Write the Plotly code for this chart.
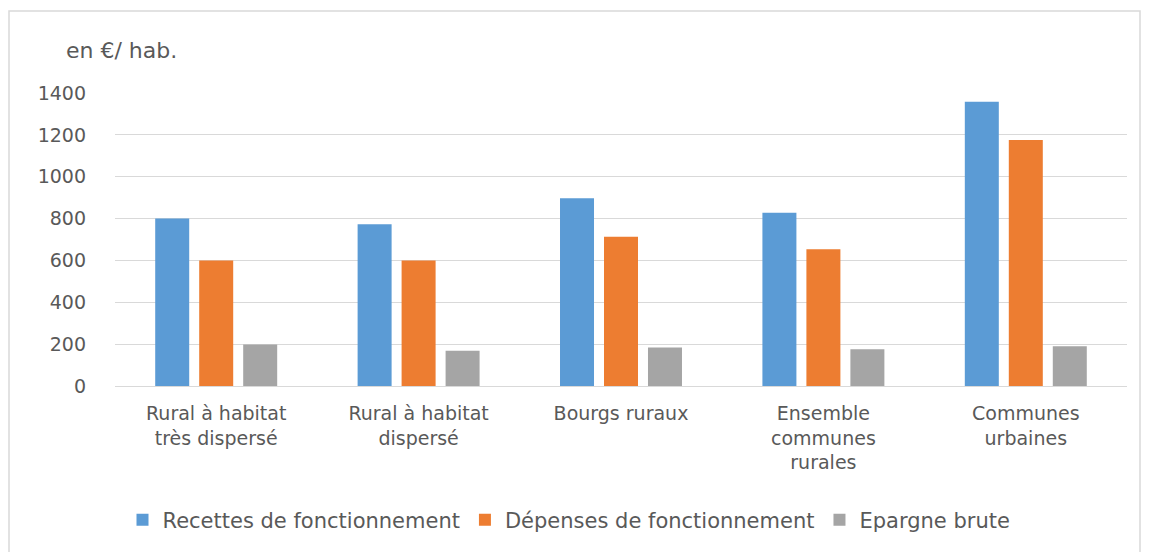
import plotly.graph_objects as go

categories = ["Rural à habitat<br>très dispersé", "Rural à habitat<br>dispersé", "Bourgs ruraux",
              "Ensemble<br>communes<br>rurales", "Communes<br>urbaines"]
recettes = [800, 773, 897, 828, 1358]
depenses = [600, 600, 713, 654, 1176]
epargne = [198, 168, 184, 176, 190]
series_names = ["Recettes de fonctionnement", "Dépenses de fonctionnement", "Epargne brute"]
y_ticks = [0, 200, 400, 600, 800, 1000, 1200, 1400]

OFF = 8  # page body margin
W, H = 1150 - OFF, 552 - OFF
L, R, T, B = 115 - OFF, 1127 - OFF, 93 - OFF, 386 - OFF  # plot area in figure px

def px_x(px):
    return (px - OFF - L) / (R - L)

def px_y(py):
    return (B - (py - OFF)) / (B - T)

colors = ["#5B9BD5", "#ED7D31", "#A5A5A5"]
FONT = "DejaVu Sans"
GREY = "#595959"

fig = go.Figure()
for name, vals, c in zip(series_names, [recettes, depenses, epargne], colors):
    fig.add_trace(go.Bar(x=categories, y=vals, name=name, marker=dict(color=c, line=dict(width=0))))

fig.update_layout(
    width=W, height=H,
    margin=dict(l=L, r=W - R, t=T, b=H - B, autoexpand=False),
    paper_bgcolor="white", plot_bgcolor="white",
    barmode="group", bargap=0.348, bargroupgap=0.227,
    font=dict(family=FONT, color=GREY, size=18),
    showlegend=True,
    legend=dict(orientation="h", x=px_x(569), xanchor="center", y=px_y(520), yanchor="middle",
                font=dict(family=FONT, size=21, color=GREY), itemwidth=30,
                bgcolor="rgba(0,0,0,0)"),
    annotations=[dict(text="en €/ hab.", x=px_x(121), y=px_y(50), xref="paper", yref="paper",
                      xanchor="center", yanchor="middle", showarrow=False,
                      font=dict(family=FONT, size=22, color=GREY))],
    shapes=[dict(type="rect", xref="paper", yref="paper",
                 x0=px_x(9), x1=px_x(1140), y0=px_y(600), y1=px_y(11),
                 line=dict(color="#d9d9d9", width=1.5), fillcolor="rgba(0,0,0,0)", layer="below")],
)
fig.update_xaxes(showgrid=False, showline=True, linecolor="#d9d9d9", linewidth=1,
                 ticks="", tickfont=dict(family=FONT, size=19, color=GREY), ticklabelstandoff=10)
fig.update_yaxes(range=[0, 1400], tickvals=y_ticks, showgrid=True, gridcolor="#d9d9d9", gridwidth=1,
                 zeroline=False, showline=False, ticks="",
                 tickfont=dict(family=FONT, size=19, color=GREY), ticklabelstandoff=28)

fig.write_html("out.html")
